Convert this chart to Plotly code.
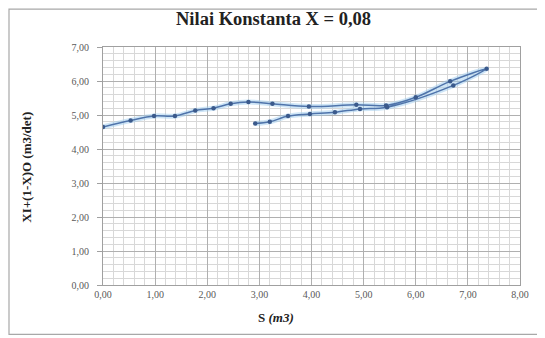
import plotly.graph_objects as go

# Data (loop: rising branch then falling branch)
S_values = [0.00, 0.53, 0.98, 1.38, 1.77, 2.12, 2.45, 2.79, 3.25, 3.95, 4.86, 5.43, 6.00, 6.66, 7.36,
            6.72, 5.45, 4.93, 4.45, 3.97, 3.55, 3.20, 2.92]
Y_values = [4.65, 4.84, 4.97, 4.97, 5.13, 5.20, 5.33, 5.38, 5.33, 5.25, 5.30, 5.28, 5.52, 5.99, 6.36,
            5.87, 5.23, 5.18, 5.08, 5.03, 4.97, 4.80, 4.75]

title_text = "Nilai Konstanta X = 0,08"
x_title = "<b>S <i>(m3)</i></b>"
y_title = "<b>XI+(1-X)O (m3/det)</b>"

# page is offset by the browser's 8px body margin; work in page coordinates
OFF = 8
W, H = 545 - OFF, 338 - OFF
plot_l, plot_r, plot_t, plot_b = 103 - OFF, 520 - OFF, 47 - OFF, 285.5 - OFF
ml, mr, mt, mb = plot_l, W - plot_r, plot_t, H - plot_b
pw, ph = plot_r - plot_l, plot_b - plot_t

def px_x(px):  # page px -> paper x
    return (px - OFF - plot_l) / pw

def px_y(py):  # page px -> paper y
    return (plot_b - (py - OFF)) / ph

fig = go.Figure()
fig.add_trace(go.Scatter(x=S_values, y=Y_values, mode="lines",
                         line=dict(color="rgba(160,205,240,0.5)", width=5, shape="spline"),
                         hoverinfo="skip", showlegend=False))
fig.add_trace(go.Scatter(x=S_values, y=Y_values, mode="lines+markers",
                         line=dict(color="#4f74ab", width=1.5, shape="spline"),
                         marker=dict(size=4.5, color="#3b5a8c"), showlegend=False))

serif = "Liberation Serif, Times New Roman, serif"

fig.update_layout(
    width=W, height=H,
    margin=dict(l=ml, r=mr, t=mt, b=mb),
    paper_bgcolor="white", plot_bgcolor="white",
    separators=",.",
    font=dict(family=serif, size=10, color="#595959"),
    xaxis=dict(range=[0, 8], dtick=1, tickformat=".2f", showgrid=True, gridcolor="#b0b0b0", gridwidth=1,
               minor=dict(dtick=0.2, showgrid=True, gridcolor="#d8d8d8"),
               showline=True, linecolor="#a0a0a0", mirror=True, zeroline=False,
               ticks="", tickfont=dict(family=serif, size=10, color="#595959")),
    yaxis=dict(range=[0, 7], dtick=1, tickformat=".2f", showgrid=True, gridcolor="#b0b0b0", gridwidth=1,
               minor=dict(dtick=0.2, showgrid=True, gridcolor="#d8d8d8"),
               showline=True, linecolor="#a0a0a0", mirror=True, zeroline=False,
               ticks="outside", ticklen=5, tickcolor="#a0a0a0", ticklabelstandoff=6,
               tickfont=dict(family=serif, size=10, color="#595959")),
)

fig.add_annotation(text="<b>" + title_text + "</b>", xref="paper", yref="paper",
                   x=px_x(273), y=px_y(19), showarrow=False, xanchor="center", yanchor="middle",
                   font=dict(family=serif, size=18.5, color="#222222"))
fig.add_annotation(text=x_title, xref="paper", yref="paper",
                   x=px_x(276), y=px_y(318), showarrow=False, xanchor="center", yanchor="middle",
                   font=dict(family=serif, size=13, color="#222222"))
fig.add_annotation(text=y_title, xref="paper", yref="paper", textangle=-90,
                   x=px_x(27), y=px_y(168), showarrow=False, xanchor="center", yanchor="middle",
                   font=dict(family=serif, size=13, color="#222222"))

# outer chart border
fig.add_shape(type="rect", xref="paper", yref="paper",
              x0=px_x(OFF + 1), x1=px_x(540),
              y0=px_y(335), y1=px_y(OFF + 1),
              line=dict(color="#a8a8a8", width=1.2), layer="below")

fig.write_html("out.html")
